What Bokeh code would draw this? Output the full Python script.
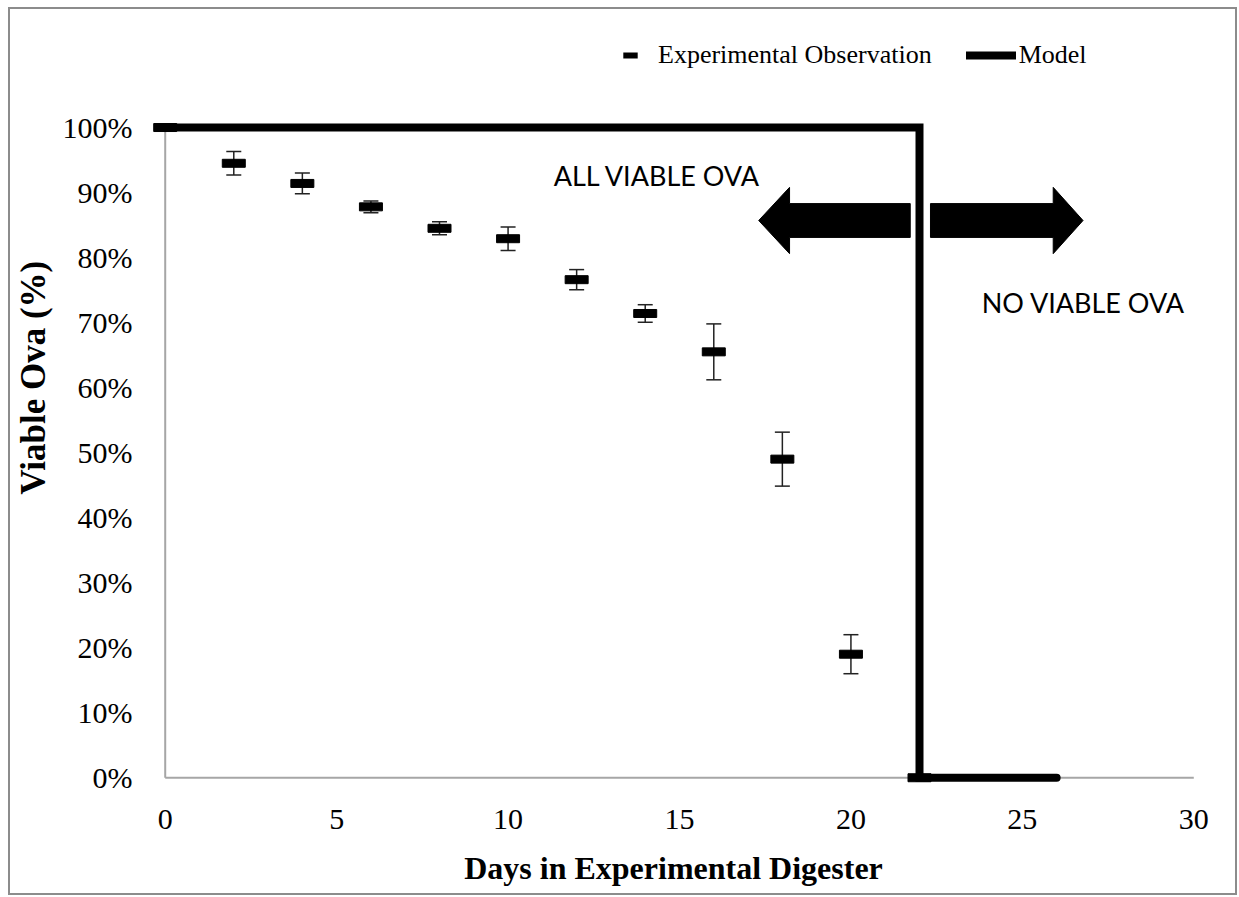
from bokeh.plotting import figure
from bokeh.models import (Range1d, FixedTicker, NumeralTickFormatter, Whisker, TeeHead,
                          ColumnDataSource, Legend, LegendItem)
from bokeh.core.properties import value
from bokeh.embed import file_html
from bokeh.resources import INLINE

# ---- data ----
days = [2, 4, 6, 8, 10, 12, 14, 16, 18, 20]
viable = [0.945, 0.914, 0.878, 0.845, 0.829, 0.766, 0.714, 0.655, 0.490, 0.190]
err = [0.018, 0.016, 0.009, 0.010, 0.018, 0.0155, 0.0135, 0.043, 0.0415, 0.030]

model_x = [0, 22, 22, 26]
model_y = [1.0, 1.0, 0.0, 0.0]
model_mark_x = [0, 22]
model_mark_y = [1.0, 0.0]

x_ticks = [0, 5, 10, 15, 20, 25, 30]
y_ticks = [0.0, 0.1, 0.2, 0.3, 0.4, 0.5, 0.6, 0.7, 0.8, 0.9, 1.0]
x_axis_end = 30
y_axis_end = 1.0

# annotation arrows (data units)
arrow_y = 0.857
arrow_body_half = 0.026
arrow_head_half = 0.051
left_arrow = dict(tip=17.31, head=18.21, tail=21.73)
right_arrow = dict(tip=26.77, head=25.90, tail=22.32)

label_all = ("ALL VIABLE OVA", 14.35, 0.926)
label_none = ("NO VIABLE OVA", 26.78, 0.731)

SERIF = "Liberation Serif"
SANS = "Lato"
NBSP = "\u00a0"

p = figure(width=1229, height=888, output_backend="svg", toolbar_location=None,
           x_range=Range1d(-0.4, 30.05), y_range=Range1d(-0.015, 1.1646),
           min_border_left=138, min_border_right=44, min_border_top=11,
           min_border_bottom=110)
p.styles = {"border": "2px solid #8c8c8c", "margin-left": "8px", "margin-top": "7px"}
p.outline_line_color = None
p.xgrid.visible = False
p.ygrid.visible = False
p.background_fill_color = "white"
p.border_fill_color = "white"

for ax in (p.xaxis[0], p.yaxis[0]):
    ax.axis_line_color = None
    ax.major_tick_line_color = None
    ax.minor_tick_line_color = None
    ax.major_label_text_font = SERIF
    ax.major_label_text_font_size = "30px"
    ax.major_label_text_color = "black"
    ax.axis_label_text_font = SERIF
    ax.axis_label_text_font_style = "bold"
    ax.axis_label_text_color = "black"

p.xaxis.ticker = FixedTicker(ticks=x_ticks)
p.yaxis.ticker = FixedTicker(ticks=y_ticks)
p.yaxis.formatter = NumeralTickFormatter(format="0%")
p.xaxis.axis_label = "Days in Experimental Digester"
p.yaxis.axis_label = NBSP * 6 + "Viable Ova (%)"
p.xaxis.axis_label_text_font_size = "32px"
p.yaxis.axis_label_text_font_size = "35px"
p.xaxis.major_label_standoff = 16
p.yaxis.major_label_standoff = 13
p.xaxis.axis_label_standoff = 18
p.yaxis.axis_label_standoff = 7

# axis lines
p.segment(x0=[0, 0], y0=[0, 0], x1=[x_axis_end, 0], y1=[0, y_axis_end],
          line_color="#a6a6a6", line_width=2)

# error bars
src = ColumnDataSource(dict(x=days, y=viable,
                            upper=[v + e for v, e in zip(viable, err)],
                            lower=[v - e for v, e in zip(viable, err)]))
w = Whisker(source=src, base="x", upper="upper", lower="lower",
            line_width=1.5, line_color="#222222", level="underlay",
            upper_head=TeeHead(size=15, line_width=1.5, line_color="#222222"),
            lower_head=TeeHead(size=15, line_width=1.5, line_color="#222222"))
p.add_layout(w)

# model line
r_model = p.line(model_x, model_y, line_width=8, line_color="black",
                 line_cap="round", line_join="miter")
p.rect(x=model_mark_x, y=model_mark_y, width=23, height=8,
       width_units="screen", height_units="screen", color="black")

# observations
p.rect(x="x", y="y", source=src, width=23, height=8,
       width_units="screen", height_units="screen", color="black")

# legend proxy for observation glyph (not drawn in the plot area)
nan = float("nan")
r_obs_leg = p.scatter(x=[nan], y=[nan], marker="dash", size=20, line_width=6,
                      line_color="black")

# arrows
def arrow_poly(a):
    xs = [a["tip"], a["head"], a["head"], a["tail"], a["tail"], a["head"], a["head"]]
    ys = [arrow_y, arrow_y + arrow_head_half, arrow_y + arrow_body_half,
          arrow_y + arrow_body_half, arrow_y - arrow_body_half,
          arrow_y - arrow_body_half, arrow_y - arrow_head_half]
    return xs, ys

lx, ly = arrow_poly(left_arrow)
rx, ry = arrow_poly(right_arrow)
p.patches(xs=[lx, rx], ys=[ly, ry], fill_color="black", line_color="black")

for t, x, y in (label_all, label_none):
    p.text(x=[x], y=[y], text=[t], text_font=value(SANS), text_font_size="27px",
           text_align="center", text_baseline="middle", text_color="black")

legend = Legend(items=[LegendItem(label="Experimental Observation", renderers=[r_obs_leg]),
                       LegendItem(label="Model", renderers=[r_model])],
                orientation="horizontal", location=(454, 714),
                border_line_color=None, background_fill_alpha=0,
                padding=0, margin=0, spacing=34, glyph_width=50, glyph_height=36,
                label_standoff=3, label_text_font=SERIF, label_text_font_size="26px",
                label_text_color="black")
p.add_layout(legend)

open("out.html", "w").write(file_html(p, INLINE))
